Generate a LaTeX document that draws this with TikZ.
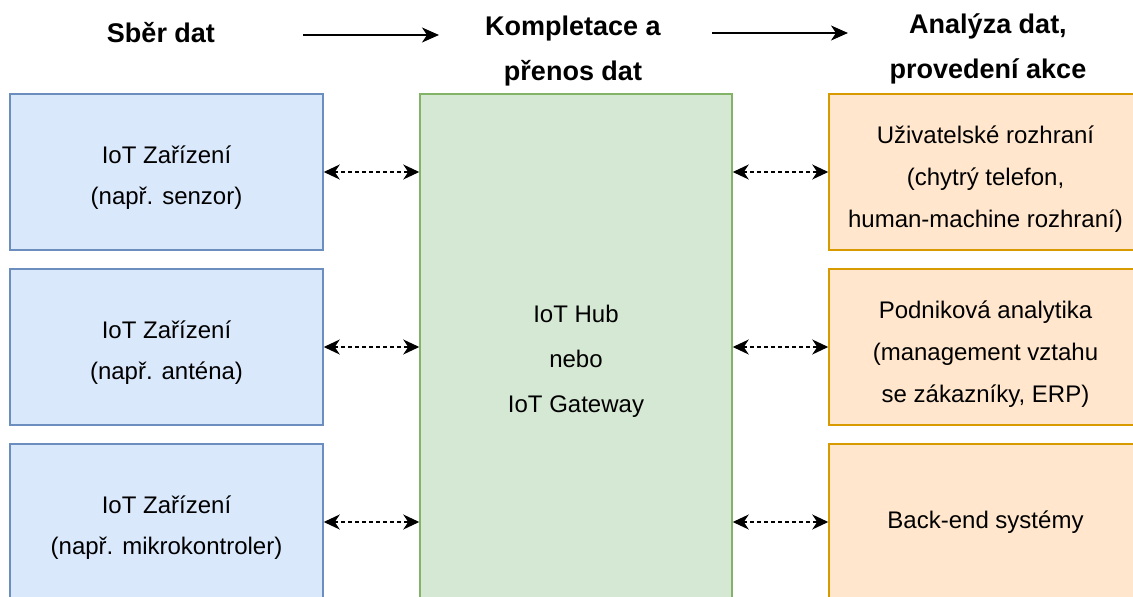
\documentclass[tikz,border=0pt]{standalone}
\usepackage{fontspec}
\setmainfont{Liberation Sans}
\usetikzlibrary{arrows.meta}

\definecolor{devfill}{HTML}{DAE8FC}
\definecolor{devline}{HTML}{6C8EBF}
\definecolor{hubfill}{HTML}{D5E8D4}
\definecolor{hubline}{HTML}{82B366}
\definecolor{appfill}{HTML}{FFE6CC}
\definecolor{appline}{HTML}{D79B00}

% invisible strut that sets the height of a first text line
\newcommand\firstrise[1]{\rule{0pt}{#1}}

\tikzset{
  panel/.style={rectangle, line width=1.5pt, inner sep=0pt, align=center,
    minimum width=313pt, minimum height=156pt,
    font=\fontsize{24}{41}\selectfont},
  devbox/.style={panel, draw=devline, fill=devfill},
  appbox/.style={panel, draw=appline, fill=appfill,
    font=\fontsize{24}{42}\selectfont},
  hubbox/.style={panel, draw=hubline, fill=hubfill,
    minimum width=312pt, minimum height=534pt,
    font=\fontsize{24}{45}\selectfont},
  heading/.style={anchor=base, inner sep=0pt,
    font=\fontsize{27}{45}\selectfont\bfseries},
  flow/.style={line width=1.6pt,
    -{Stealth[length=17pt, width=15pt, inset=5pt]}},
  link/.style={line width=1.6pt, dash pattern=on 4pt off 3pt,
    {Stealth[length=16pt, width=15pt, inset=5pt]}-{Stealth[length=16pt, width=15pt, inset=5pt]}}
}

\begin{document}
\begin{tikzpicture}[x=1pt, y=-1pt]
\useasboundingbox (0,0) rectangle (1133,597);
\clip (0,0) rectangle (1133,597);

% column headings
\node[heading] (hcollect) at (161,42) {Sběr dat};
\node[heading] (hgather1) at (573,35) {Kompletace a};
\node[heading] (hgather2) at (573,80) {přenos dat};
\node[heading] (hact1) at (988,33) {Analýza dat,};
\node[heading] (hact2) at (988,78) {provedení akce};

% direction of the data flow between the stages
\coordinate (f1s) at (303,35);
\coordinate (f1e) at (439,35);
\coordinate (f2s) at (712,33);
\coordinate (f2e) at (848,33);
\draw[flow] (f1s) -- (f1e);
\draw[flow] (f2s) -- (f2e);

% devices
\node[devbox] (dev1) at (166.5,172) {\firstrise{28pt}IoT Zařízení\\(např. senzor)};
\node[devbox] (dev2) at (166.5,347) {\firstrise{28pt}IoT Zařízení\\(např. anténa)};
\node[devbox] (dev3) at (166.5,522) {\firstrise{28pt}IoT Zařízení\\(např. mikrokontroler)};

% hub / gateway
\node[hubbox] (hub) at (576,361) {IoT Hub\\nebo\\IoT Gateway};

% consumers of the data
\node[appbox] (app1) at (985.5,172) {\firstrise{31pt}Uživatelské rozhraní\\(chytrý telefon,\\human-machine rozhraní)};
\node[appbox] (app2) at (985.5,347) {\firstrise{31pt}Podniková analytika\\(management vztahu\\se zákazníky, ERP)};
\node[appbox] (app3) at (985.5,522) {Back-end systémy};

% two-way links
\draw[link] (dev1.east) -- (dev1.east -| hub.west);
\draw[link] (dev2.east) -- (dev2.east -| hub.west);
\draw[link] (dev3.east) -- (dev3.east -| hub.west);
\draw[link] (app1.west -| hub.east) -- (app1.west);
\draw[link] (app2.west -| hub.east) -- (app2.west);
\draw[link] (app3.west -| hub.east) -- (app3.west);
\end{tikzpicture}
\end{document}
